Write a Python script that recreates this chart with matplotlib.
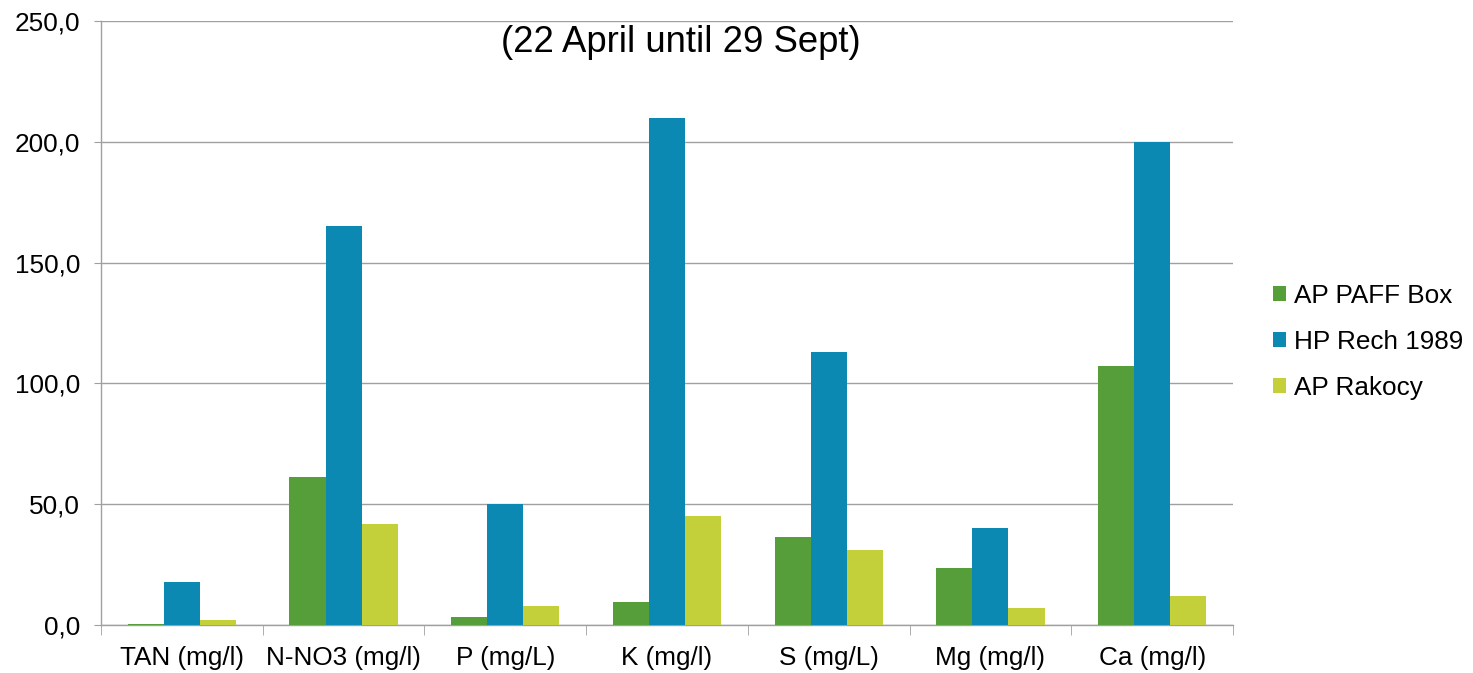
import numpy as np
import matplotlib.pyplot as plt
from matplotlib.ticker import FuncFormatter

plt.rcParams['font.family'] = ['Liberation Sans', 'DejaVu Sans']

categories = ["TAN (mg/l)", "N-NO3 (mg/l)", "P (mg/L)", "K (mg/l)",
              "S (mg/L)", "Mg (mg/l)", "Ca (mg/l)"]
paff_box = [0.5, 61.3, 3.3, 9.5, 36.4, 23.6, 107.0]
rech_1989 = [18.0, 165.0, 50.0, 210.0, 113.0, 40.0, 200.0]
rakocy = [2.0, 42.0, 8.0, 45.0, 31.0, 7.0, 12.0]

series = [("AP PAFF Box", paff_box, "#559E3A"),
          ("HP Rech 1989", rech_1989, "#0B89B3"),
          ("AP Rakocy", rakocy, "#C3D03A")]

W, H = 1473, 673
fig = plt.figure(figsize=(W / 100, H / 100), dpi=100)
ax = fig.add_axes([101 / W, (H - 625) / H, 1132 / W, 604 / H])

x = np.arange(len(categories))
bw = 0.223
for i, (name, vals, col) in enumerate(series):
    ax.bar(x + (i - 1) * bw, vals, bw, color=col, label=name, zorder=3)

ax.set_xlim(-0.5, len(categories) - 0.5)
ax.set_ylim(0, 250)
ax.set_yticks(np.arange(0, 251, 50))
ax.yaxis.set_major_formatter(FuncFormatter(lambda v, p: f"{v:.1f}".replace(".", ",")))
ax.grid(axis="y", color="#A0A0A0", linewidth=1.0, zorder=0)

ax.set_xticks(x)
ax.set_xticklabels(categories)
ax.set_xticks(np.arange(-0.5, len(categories)), minor=True)
ax.tick_params(axis="x", which="major", length=0, pad=15, labelsize=18.8)
ax.tick_params(axis="x", which="minor", length=7, color="#A0A0A0")
ax.tick_params(axis="y", length=5, color="#A0A0A0", pad=10, labelsize=18.8)

for s in ["top", "right"]:
    ax.spines[s].set_visible(False)
for s in ["left", "bottom"]:
    ax.spines[s].set_color("#A0A0A0")
    ax.spines[s].set_linewidth(1.0)

fig.text(681 / W, 1 - 52 / H, "(22 April until 29 Sept)", ha="center",
         va="baseline", fontsize=26.3)

fig.legend(loc="center left", bbox_to_anchor=(1273 / W, 1 - 342 / H),
           frameon=False, fontsize=18.8, handlelength=0.5, handleheight=0.5,
           handletextpad=0.3, labelspacing=0.85, borderaxespad=0, borderpad=0)

fig.savefig("out.png", dpi=100)
